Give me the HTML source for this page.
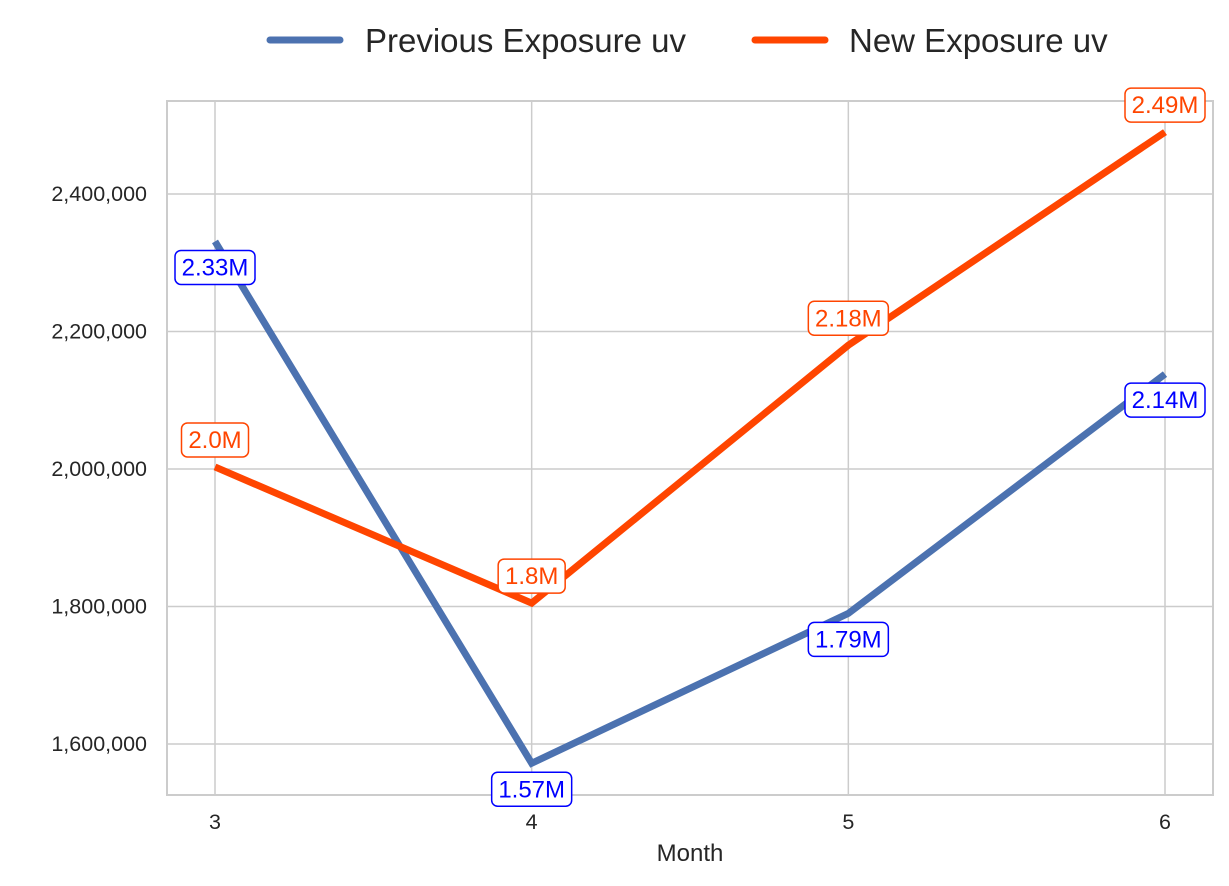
<!DOCTYPE html>
<html><head><meta charset="utf-8"><style>
body{margin:0;background:#fff;font-family:"Liberation Sans",Arial,sans-serif}
</style></head><body>
<svg id="chart" width="1229" height="881" xmlns="http://www.w3.org/2000/svg" font-family="Liberation Sans, Arial, sans-serif"></svg>
<script>
const months = [3, 4, 5, 6];
const prevValues = [2331000, 1572000, 1790000, 2138000];
const newValues = [2003000, 1805000, 2180000, 2490000];
const prevLabels = ["2.33M", "1.57M", "1.79M", "2.14M"];
const newLabels = ["2.0M", "1.8M", "2.18M", "2.49M"];
const yTicks = [1600000, 1800000, 2000000, 2200000, 2400000];

const svg = document.getElementById('chart');
const NS = 'http://www.w3.org/2000/svg';
const L = 167, R = 1213, T = 101, B = 795;
function xs(m){ return 215 + (m - 3) * (1165 - 215) / 3; }
function ys(v){ return 744 - (v - 1600000) * (744 - 194) / 800000; }
function mk(tag, attrs, parent){ const e = document.createElementNS(NS, tag); for (const k in attrs) e.setAttribute(k, attrs[k]); (parent||svg).appendChild(e); return e; }

yTicks.forEach(v => {
  const g = mk('line', {x1:L, x2:R, y1:ys(v), y2:ys(v), stroke:'#cccccc', 'stroke-width':1.5});
  
  
  const t = mk('text', {x:L-20, y:ys(v)+7, 'text-anchor':'end', 'font-size':21.5, fill:'#262626'});
  t.textContent = v.toLocaleString('en-US');
  
  
});
months.forEach(m => {
  const g = mk('line', {x1:xs(m), x2:xs(m), y1:T, y2:B, stroke:'#cccccc', 'stroke-width':1.5});
  
  
  const t = mk('text', {x:xs(m), y:B+34, 'text-anchor':'middle', 'font-size':21.5, fill:'#262626'});
  t.textContent = m;
  
  
});
const frame = mk('rect', {x:L, y:T, width:R-L, height:B-T, fill:'none', stroke:'#cccccc', 'stroke-width':2});


const xt = mk('text', {x:(L+R)/2, y:861, 'text-anchor':'middle', 'font-size':24, fill:'#262626'});
xt.textContent = 'Month';



function series(vals, color, name){
  const p = mk('polyline', {points: vals.map((v,i)=>xs(months[i])+','+ys(v)).join(' '), fill:'none', stroke:color, 'stroke-width':7, 'stroke-linejoin':'miter'});
  
  
}
series(prevValues, '#4c72b0', 'previous-exposure-line');
series(newValues, '#ff4500', 'new-exposure-line');

function labels(vals, texts, color, dy, name){
  vals.forEach((v,i) => {
    const cx = xs(months[i]), cy = ys(v) + dy;
    const w = texts[i].length * 13 + 15;
    const r = mk('rect', {x:cx-w/2, y:cy-17, width:w, height:34, rx:6, fill:'#fff', stroke:color, 'stroke-width':1.5});
    
    
    const t = mk('text', {x:cx, y:cy+8, 'text-anchor':'middle', 'font-size':24, fill:color});
    t.textContent = texts[i];
    
    
  });
}
labels(prevValues, prevLabels, '#0000ff', 26, 'previous-value-label');
labels(newValues, newLabels, '#ff4500', -27, 'new-value-label');

const l1 = mk('line', {x1:270, x2:340, y1:40, y2:40, stroke:'#4c72b0', 'stroke-width':7, 'stroke-linecap':'round'});


const t1 = mk('text', {x:365, y:52, 'font-size':33, fill:'#262626'});
t1.textContent = 'Previous Exposure uv';


const l2 = mk('line', {x1:755, x2:825, y1:40, y2:40, stroke:'#ff4500', 'stroke-width':7, 'stroke-linecap':'round'});


const t2 = mk('text', {x:849, y:52, 'font-size':33, fill:'#262626'});
t2.textContent = 'New Exposure uv';


</script>
</body></html>
